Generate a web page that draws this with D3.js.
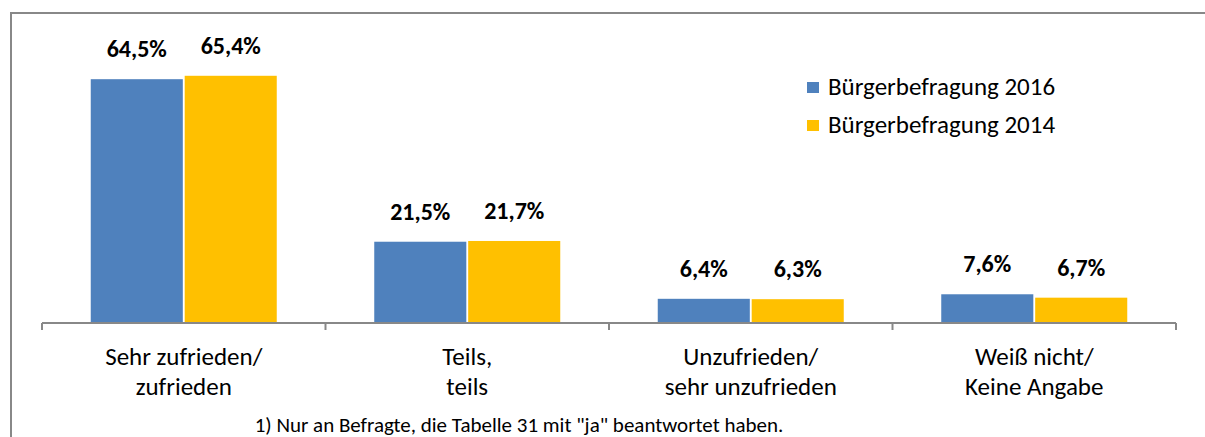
<!DOCTYPE html>
<html>
<head>
<meta charset="utf-8">
<script src="https://cdn.jsdelivr.net/npm/d3@7"></script>
<style>
  body { margin: 0; background: #fff; }
  text { font-family: Carlito, Lato, "Open Sans", sans-serif; fill: #000; }
</style>
</head>
<body>
<div id="chart"></div>
<script>
// chart data
const categories = [["Sehr zufrieden/", "zufrieden"], ["Teils,", "teils"], ["Unzufrieden/", "sehr unzufrieden"], ["Weiß nicht/", "Keine Angabe"]];
const seriesNames = ["Bürgerbefragung 2016", "Bürgerbefragung 2014"];
const values2016 = [64.5, 21.5, 6.4, 7.6];
const values2014 = [65.4, 21.7, 6.3, 6.7];
const colors = ["#4F81BD", "#FFC000"];
const footnote = '1) Nur an Befragte, die Tabelle 31 mit "ja" beantwortet haben.';

let width = 1205, height = 437;

let svg = d3.select("#chart")
  .append("svg")
  .attr("width", width)
  .attr("height", height);

// outer frame (only top and left edges visible)
svg.append("path")
  .attr("d", "M11,437 V13 H1205")
  .attr("fill", "none")
  .attr("stroke", "#888")
  .attr("stroke-width", 2);

let xscale = d3.scaleBand()
  .domain(d3.range(categories.length))
  .range([42, 1176]);

let inner = d3.scaleBand()
  .domain([0, 1])
  .range([0, 186])
  .paddingInner(0.02);

let yscale = d3.scaleLinear()
  .domain([0, 70])
  .range([323, 323 - 70 * 3.78]);

const series = [values2016, values2014];

series.forEach((vals, s) => {
  vals.forEach((v, i) => {
    const x0 = xscale(i) + (xscale.bandwidth() - 186) / 2 + inner(s);
    svg.append("rect")
      .attr("x", x0)
      .attr("y", yscale(v))
      .attr("width", inner.bandwidth())
      .attr("height", yscale(0) - yscale(v))
      .attr("fill", colors[s]);

    svg.append("text")
      .attr("x", x0 + inner.bandwidth() / 2)
      .attr("y", yscale(v) - 22)
      .attr("text-anchor", "middle")
      .attr("font-size", 24)
      .attr("font-weight", 700)
      .text(v.toFixed(1).replace(".", ",") + "%");
  });
});

// category axis
let xaxis = svg.append("g")
  .attr("transform", `translate(0, ${yscale(0)})`);

xaxis.append("line")
  .attr("x1", 42)
  .attr("x2", 1176)
  .attr("stroke", "#888")
  .attr("stroke-width", 2);

d3.range(categories.length + 1).forEach(i => {
  const x = i < categories.length ? xscale(i) : xscale.range()[1];
  xaxis.append("line")
    .attr("x1", x)
    .attr("x2", x)
    .attr("y1", 0)
    .attr("y2", 7)
    .attr("stroke", "#888")
    .attr("stroke-width", 2);
});

categories.forEach((lines, i) => {
  lines.forEach((t, j) => {
    svg.append("text")
      .attr("x", xscale(i) + xscale.bandwidth() / 2)
      .attr("y", 365 + j * 30)
      .attr("text-anchor", "middle")
      .attr("font-size", 25)
      .text(t);
  });
});

// legend
seriesNames.forEach((name, s) => {
  svg.append("rect")
    .attr("x", 807)
    .attr("y", 82 + s * 38)
    .attr("width", 12)
    .attr("height", 11)
    .attr("fill", colors[s]);

  svg.append("text")
    .attr("x", 828)
    .attr("y", 95 + s * 38)
    .attr("font-size", 25)
    .text(name);
});

svg.append("text")
  .attr("x", 519)
  .attr("y", 432)
  .attr("text-anchor", "middle")
  .attr("font-size", 21)
  .text(footnote);
</script>
</body>
</html>
